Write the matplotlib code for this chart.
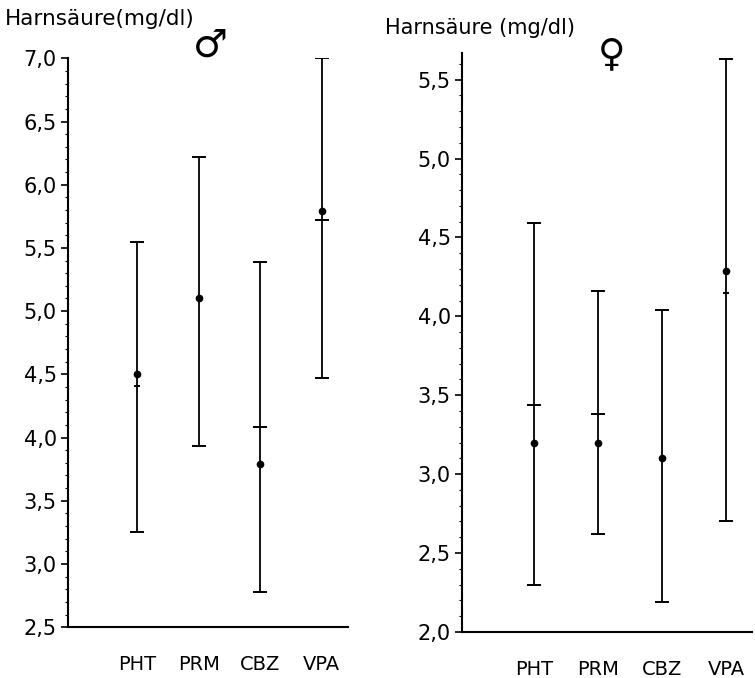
import numpy as np
import matplotlib.pyplot as plt
from matplotlib.ticker import FuncFormatter, MultipleLocator

# Harnsäure (mg/dl) by drug, range (lo..hi), mean (dot) and median (tick)
drugs = ['PHT', 'PRM', 'CBZ', 'VPA']

male_hi = [5.55, 6.22, 5.39, 7.00]
male_lo = [3.25, 3.93, 2.78, 4.47]
male_mean = [4.50, 5.10, 3.79, 5.79]
male_median = [4.41, np.nan, 4.08, 5.72]

female_hi = [4.59, 4.16, 4.04, 5.63]
female_lo = [2.30, 2.62, 2.19, 2.70]
female_mean = [3.20, 3.20, 3.10, 4.29]
female_median = [3.44, 3.38, np.nan, 4.15]

plt.rcParams['font.family'] = ['DejaVu Sans']

fig = plt.figure(figsize=(7.55, 6.78), dpi=100)
ax_m = fig.add_axes([0.090, 0.075, 0.371, 0.839])
ax_f = fig.add_axes([0.612, 0.068, 0.384, 0.854])

comma = FuncFormatter(lambda v, pos: f'{v:.1f}'.replace('.', ','))


def draw_panel(ax, hi, lo, mean, median, ylim, xlim, small=()):
    x = np.arange(len(drugs))
    hi = np.array(hi)
    lo = np.array(lo)
    mid = (hi + lo) / 2
    half = (hi - lo) / 2
    ax.errorbar(x, mid, yerr=half, fmt='none', ecolor='black',
                elinewidth=1.3, capsize=5, capthick=1.4)
    ax.plot(x, mean, 'o', color='black', markersize=4.5)
    # median marks; a few are printed only as a short nick in the original
    for i in range(len(drugs)):
        ms = 4 if i in small else 10
        ax.plot(x[i], median[i], '_', color='black', markersize=ms,
                markeredgewidth=1.4)

    ax.set_ylim(*ylim)
    ax.set_xlim(*xlim)
    ax.spines['top'].set_visible(False)
    ax.spines['right'].set_visible(False)
    ax.spines['left'].set_linewidth(1.5)
    ax.spines['bottom'].set_linewidth(1.5)

    ax.yaxis.set_major_locator(MultipleLocator(0.5))
    ax.yaxis.set_minor_locator(MultipleLocator(0.1))
    ax.yaxis.set_major_formatter(comma)
    ax.tick_params(axis='y', which='major', length=5, width=1.2,
                   labelsize=15, pad=3)
    ax.tick_params(axis='y', which='minor', length=2, width=0.8)

    ax.set_xticks(x)
    ax.set_xticklabels(drugs)
    ax.tick_params(axis='x', length=0, labelsize=14, pad=20)


draw_panel(ax_m, male_hi, male_lo, male_mean, male_median,
           (2.5, 7.0), (-1.13, 3.43), small=(0,))
draw_panel(ax_f, female_hi, female_lo, female_mean, female_median,
           (2.0, 5.67), (-1.125, 3.4), small=(3,))

fig.text(0.007, 0.972, 'Harnsäure(mg/dl)', fontsize=15.5, ha='left', va='center')
fig.text(0.510, 0.958, 'Harnsäure (mg/dl)', fontsize=15, ha='left', va='center')
fig.text(0.278, 0.933, '♂', fontsize=28, ha='center', va='center')
fig.text(0.810, 0.918, '♀', fontsize=27, ha='center', va='center')

fig.savefig('out.png', dpi=100)
